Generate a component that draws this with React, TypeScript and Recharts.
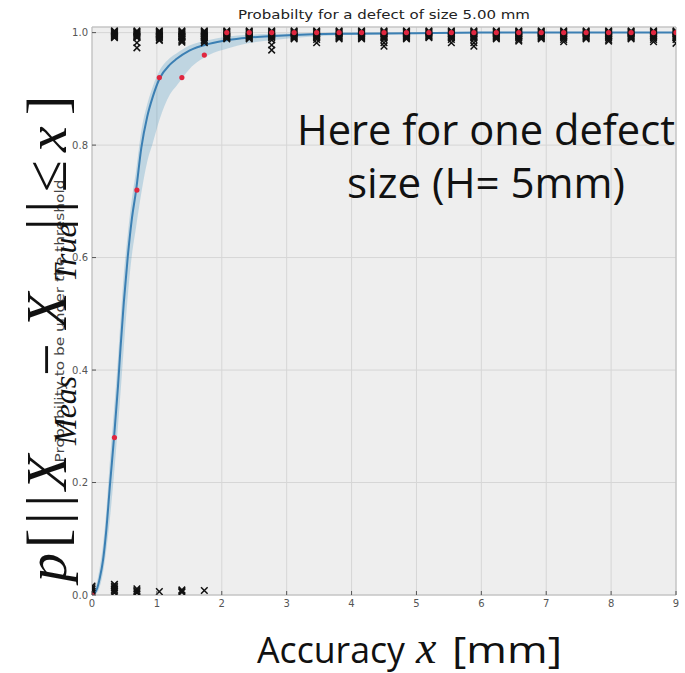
import React from 'react';
import {
  ComposedChart,
  Area,
  Line,
  Scatter,
  XAxis,
  YAxis,
  CartesianGrid,
  ReferenceLine,
} from 'recharts';

// ---- fitted curve ----
const curveX = [0.03, 0.08, 0.12, 0.17, 0.22, 0.28, 0.34, 0.4, 0.44, 0.49, 0.55, 0.61, 0.68, 0.76, 0.85, 0.94, 1.04, 1.2, 1.3, 1.5, 1.8, 2.1, 2.4, 2.8, 3.4, 4.0, 5.0, 6.0, 7.0, 9.0];
const curveMean = [0.002, 0.012, 0.03, 0.062, 0.115, 0.2, 0.28, 0.37, 0.44, 0.52, 0.6, 0.665, 0.72, 0.795, 0.85, 0.887, 0.918, 0.943, 0.953, 0.968, 0.98, 0.987, 0.991, 0.994, 0.997, 0.998, 0.999, 1.0, 1.0, 1.0];
const curveLower = [0.0, 0.004, 0.015, 0.04, 0.08, 0.14, 0.215, 0.3, 0.36, 0.44, 0.53, 0.6, 0.655, 0.715, 0.77, 0.805, 0.845, 0.89, 0.905, 0.935, 0.96, 0.972, 0.981, 0.987, 0.993, 0.996, 0.998, 0.999, 1.0, 1.0];
const curveUpper = [0.006, 0.025, 0.05, 0.09, 0.15, 0.245, 0.33, 0.42, 0.49, 0.57, 0.64, 0.7, 0.755, 0.825, 0.872, 0.905, 0.932, 0.955, 0.963, 0.977, 0.987, 0.993, 0.996, 0.998, 0.999, 1.0, 1.0, 1.0, 1.0, 1.0];

// ---- sampled accuracies and observed probability (red dots) ----
const sampleX = [0, 0.346, 0.692, 1.038, 1.385, 1.731, 2.077, 2.423, 2.769, 3.115, 3.462, 3.808, 4.154, 4.5, 4.846, 5.192, 5.538, 5.885, 6.231, 6.577, 6.923, 7.269, 7.615, 7.962, 8.308, 8.654, 9.0];
const observedP = [0, 0.28, 0.72, 0.92, 0.92, 0.96, 1, 1, 1, 1, 1, 1, 1, 1, 1, 1, 1, 1, 1, 1, 1, 1, 1, 1, 1, 1, 1];

// ---- individual outcomes (black x markers) ----
// dense stack of successes near 1.0 seen in every column from the 2nd on
const successStack = [1.003, 1.0015, 1.0, 0.9985, 0.997, 0.9955, 0.994, 0.9925, 0.991];
// extra, lower successes per column
const topExtras: number[][] = [
  [],
  [],
  [0.982, 0.973],
  [0.988, 0.986],
  [0.988, 0.985, 0.983],
  [0.988, 0.985, 0.982],
  [0.989],
  [0.989],
  [0.987, 0.978, 0.969],
  [0.989],
  [0.988, 0.982],
  [0.989],
  [0.989],
  [0.988, 0.982, 0.976],
  [0.989],
  [],
  [0.988, 0.982],
  [0.988, 0.982, 0.976],
  [0.989],
  [0.988, 0.985],
  [0.989],
  [0.988, 0.984],
  [0.989],
  [0.988, 0.985],
  [0.989],
  [0.988, 0.984],
  [0.988, 0.981],
];
// failures near 0.0 per column
const bottomCrosses: number[][] = [
  [0.004, 0.007, 0.01, 0.013, 0.016],
  [0.004, 0.007, 0.01, 0.013, 0.016, 0.019],
  [0.004, 0.006, 0.008, 0.011],
  [0.006],
  [0.005, 0.007, 0.009],
  [0.008],
];

const xTicks = [0, 1, 2, 3, 4, 5, 6, 7, 8, 9];
const yTicks = [0, 0.2, 0.4, 0.6, 0.8, 1.0];

const curveData = curveX.map((x, i) => ({
  x,
  mean: curveMean[i],
  band: [curveLower[i], curveUpper[i]],
}));
const dotData = sampleX.map((x, i) => ({ x, y: observedP[i] }));
const crossData: { x: number; y: number }[] = [];
sampleX.forEach((x, i) => {
  if (observedP[i] > 0) successStack.forEach((y) => crossData.push({ x, y }));
  topExtras[i].forEach((y) => crossData.push({ x, y }));
});
bottomCrosses.forEach((col, i) => col.forEach((y) => crossData.push({ x: sampleX[i], y })));

const XMark = (p: any) => {
  const { cx, cy } = p;
  const s = 3.3;
  return (
    <path
      d={`M${cx - s},${cy - s}L${cx + s},${cy + s}M${cx - s},${cy + s}L${cx + s},${cy - s}`}
      stroke="#111"
      strokeWidth={1.5}
      fill="none"
    />
  );
};
const RedDot = (p: any) => <circle cx={p.cx} cy={p.cy} r={2.6} fill="#e0263f" />;

const YTick = (props: any) => {
  const { x, y, payload } = props;
  return (
    <g>
      <line x1={x + 4} x2={x + 8} y1={y} y2={y} stroke="#555" strokeWidth={1} />
      <text x={x} y={y} dy={3.5} textAnchor="end" fontSize={10} fill="#555" fontFamily="DejaVu Sans">
        {Number(payload.value).toFixed(1)}
      </text>
    </g>
  );
};
const XTick = (props: any) => {
  const { x, y, payload } = props;
  return (
    <g>
      <line x1={x} x2={x} y1={y - 4} y2={y - 8} stroke="#555" strokeWidth={1} />
      <text x={x} y={y} dy={8} textAnchor="middle" fontSize={10} fill="#555" fontFamily="DejaVu Sans">
        {payload.value}
      </text>
    </g>
  );
};

const serif = 'Liberation Serif';

export default function App() {
  return (
    <div style={{ position: 'absolute', left: 0, top: 0, width: 685, height: 673, background: '#fff' }}>
      <ComposedChart
        width={685}
        height={673}
        data={curveData}
        margin={{ top: 27, right: 9, bottom: 48, left: 52 }}
      >
        <CartesianGrid stroke="#d6d6d6" fill="#eeeeee" />
        <XAxis
          dataKey="x"
          type="number"
          domain={[0, 9]}
          ticks={xTicks}
          height={30}
          tickSize={0}
          tickMargin={4}
          tick={<XTick />}
          stroke="#bcbcbc"
          allowDataOverflow
        />
        <YAxis
          type="number"
          domain={[0, 1.01]}
          ticks={yTicks}
          width={40}
          tickSize={0}
          tickMargin={4}
          tick={<YTick />}
          stroke="#bcbcbc"
          allowDataOverflow
        />
        <ReferenceLine y={1.01} stroke="#bcbcbc" />
        <ReferenceLine x={9} stroke="#bcbcbc" />
        <Area
          dataKey="band"
          type="monotone"
          stroke="none"
          fill="#348ABD"
          fillOpacity={0.25}
          isAnimationActive={false}
        />
        <Line
          dataKey="mean"
          type="monotone"
          stroke="#3b7fb3"
          strokeWidth={2}
          dot={false}
          activeDot={false}
          isAnimationActive={false}
        />
        <Scatter data={crossData} dataKey="y" shape={<XMark />} isAnimationActive={false} />
        <Scatter data={dotData} dataKey="y" shape={<RedDot />} isAnimationActive={false} />
      </ComposedChart>
      <svg
        width={685}
        height={673}
        style={{ position: 'absolute', left: 0, top: 0, pointerEvents: 'none' }}
      >
        <text
          x={384}
          y={19}
          textAnchor="middle"
          fontFamily="DejaVu Sans"
          fontSize={13}
          fill="#222"
          textLength={292}
          lengthAdjust="spacingAndGlyphs"
        >
          Probabilty for a defect of size 5.00 mm
        </text>
        <text
          transform="translate(64,321) rotate(-90)"
          textAnchor="middle"
          fontFamily="DejaVu Sans"
          fontSize={12.5}
          fill="#444"
          textLength={283}
          lengthAdjust="spacingAndGlyphs"
        >
          Probability to be under the threshold
        </text>
        <g transform="translate(66,582) rotate(-90)" fontFamily={serif} fill="#111">
          <text x={0} y={0} fontSize={58} fontStyle="italic">p</text>
          <text x={34} y={0} fontSize={58}>[</text>
          <text x={58} y={0} fontSize={58} letterSpacing={6}>||</text>
          <text x={92} y={0} fontSize={58} fontStyle="italic">X</text>
          <text x={137} y={10} fontSize={32} fontStyle="italic">Meas</text>
          <text x={206} y={0} fontSize={58}>−</text>
          <text x={254} y={0} fontSize={58} fontStyle="italic">X</text>
          <text x={300} y={10} fontSize={32} fontStyle="italic">True</text>
          <text x={352} y={0} fontSize={58} letterSpacing={6}>||</text>
          <text x={390} y={0} fontSize={58}>≤</text>
          <text x={430} y={0} fontSize={58} fontStyle="italic">x</text>
          <text x={467} y={0} fontSize={58}>]</text>
        </g>
        <text x={297} y={145} fontFamily="Open Sans" fontSize={42} fill="#111" textLength={378} lengthAdjust="spacingAndGlyphs">
          Here for one defect
        </text>
        <text x={347} y={198} fontFamily="Open Sans" fontSize={42} fill="#111" textLength={278} lengthAdjust="spacingAndGlyphs">
          size (H= 5mm)
        </text>
        <text x={257} y={663} fontFamily="Open Sans" fontSize={36} fill="#111" textLength={148} lengthAdjust="spacingAndGlyphs">
          Accuracy
        </text>
        <text x={416} y={663} fontFamily={serif} fontStyle="italic" fontSize={46} fill="#111">
          x
        </text>
        <text x={452} y={663} fontFamily="Open Sans" fontSize={36} fill="#111" textLength={110} lengthAdjust="spacingAndGlyphs">
          [mm]
        </text>
      </svg>
    </div>
  );
}
